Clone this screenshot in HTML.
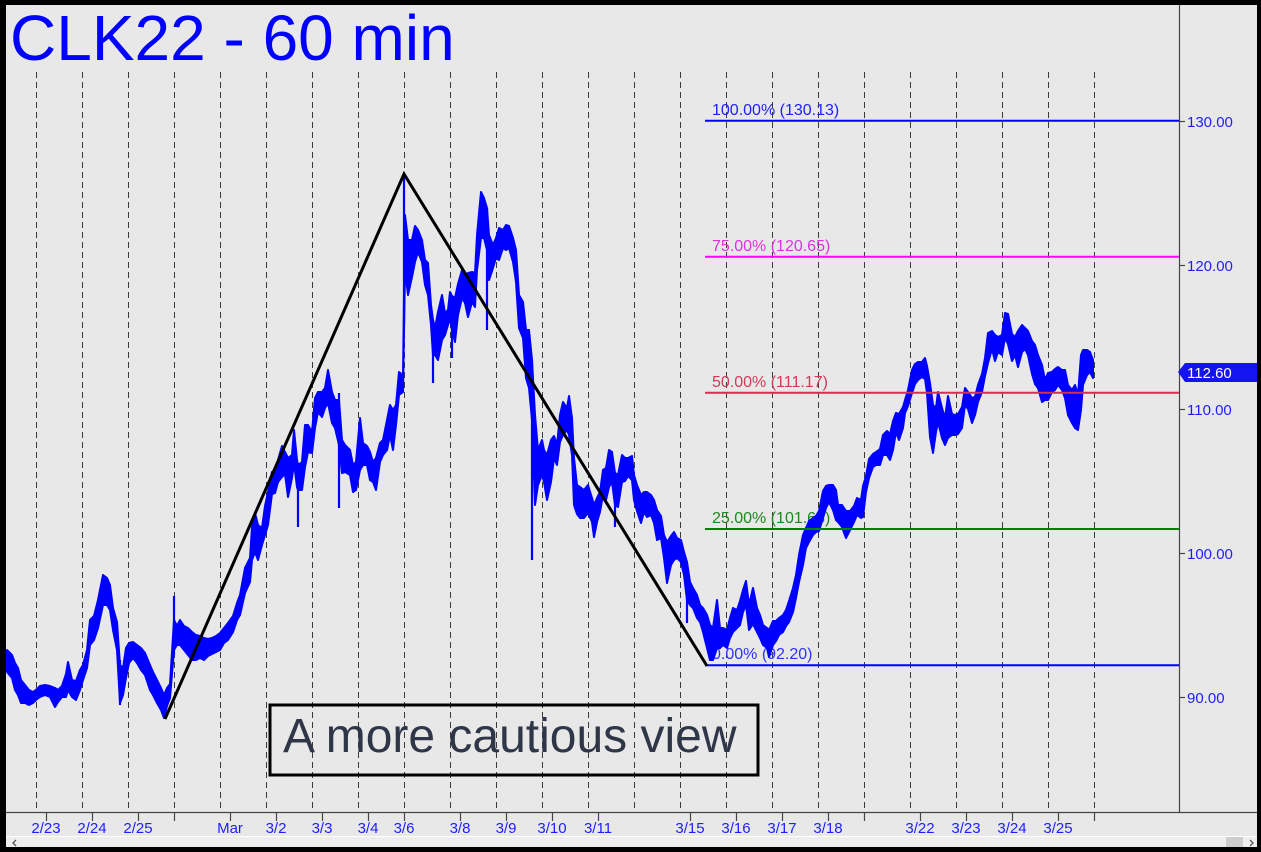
<!DOCTYPE html>
<html>
<head>
<meta charset="utf-8">
<style>
html,body{margin:0;padding:0;background:#e8e8e8;}
svg{display:block;}
text{font-family:"Liberation Sans",Arial,sans-serif;}
</style>
</head>
<body>
<svg width="1261" height="852" viewBox="0 0 1261 852" xmlns="http://www.w3.org/2000/svg">
<rect x="0" y="0" width="1261" height="852" fill="#e8e8e8"/>

<!-- dashed vertical grid -->
<g stroke="#3a3a3a" stroke-width="1" stroke-dasharray="6,4">
<line x1="36.5" y1="72" x2="36.5" y2="812"/>
<line x1="82.5" y1="72" x2="82.5" y2="812"/>
<line x1="128.5" y1="72" x2="128.5" y2="812"/>
<line x1="174.5" y1="72" x2="174.5" y2="812"/>
<line x1="220.5" y1="72" x2="220.5" y2="812"/>
<line x1="266.5" y1="72" x2="266.5" y2="812"/>
<line x1="312.5" y1="72" x2="312.5" y2="812"/>
<line x1="358.5" y1="72" x2="358.5" y2="812"/>
<line x1="404.5" y1="72" x2="404.5" y2="812"/>
<line x1="450.5" y1="72" x2="450.5" y2="812"/>
<line x1="496.5" y1="72" x2="496.5" y2="812"/>
<line x1="542.5" y1="72" x2="542.5" y2="812"/>
<line x1="588.5" y1="72" x2="588.5" y2="812"/>
<line x1="634.5" y1="72" x2="634.5" y2="812"/>
<line x1="680.5" y1="72" x2="680.5" y2="812"/>
<line x1="726.5" y1="72" x2="726.5" y2="812"/>
<line x1="772.5" y1="72" x2="772.5" y2="812"/>
<line x1="818.5" y1="72" x2="818.5" y2="812"/>
<line x1="864.5" y1="72" x2="864.5" y2="812"/>
<line x1="910.5" y1="72" x2="910.5" y2="812"/>
<line x1="956.5" y1="72" x2="956.5" y2="812"/>
<line x1="1002.5" y1="72" x2="1002.5" y2="812"/>
<line x1="1048.5" y1="72" x2="1048.5" y2="812"/>
<line x1="1094.5" y1="72" x2="1094.5" y2="812"/>
</g>

<!-- axes -->
<line x1="6" y1="812.5" x2="1257" y2="812.5" stroke="#454545" stroke-width="1.2"/>
<line x1="1179.5" y1="5" x2="1179.5" y2="812" stroke="#454545" stroke-width="1.2"/>

<!-- x ticks -->
<g stroke="#454545" stroke-width="1.2">
<line x1="46.5" y1="812" x2="46.5" y2="821"/>
<line x1="92.5" y1="812" x2="92.5" y2="821"/>
<line x1="138.5" y1="812" x2="138.5" y2="821"/>
<line x1="174.5" y1="812" x2="174.5" y2="821"/>
<line x1="230.5" y1="812" x2="230.5" y2="821"/>
<line x1="276.5" y1="812" x2="276.5" y2="821"/>
<line x1="322.5" y1="812" x2="322.5" y2="821"/>
<line x1="368.5" y1="812" x2="368.5" y2="821"/>
<line x1="404.5" y1="812" x2="404.5" y2="821"/>
<line x1="460.5" y1="812" x2="460.5" y2="821"/>
<line x1="506.5" y1="812" x2="506.5" y2="821"/>
<line x1="552.5" y1="812" x2="552.5" y2="821"/>
<line x1="598.5" y1="812" x2="598.5" y2="821"/>
<line x1="690.5" y1="812" x2="690.5" y2="821"/>
<line x1="736.5" y1="812" x2="736.5" y2="821"/>
<line x1="782.5" y1="812" x2="782.5" y2="821"/>
<line x1="828.5" y1="812" x2="828.5" y2="821"/>
<line x1="864.5" y1="812" x2="864.5" y2="821"/>
<line x1="920.5" y1="812" x2="920.5" y2="821"/>
<line x1="966.5" y1="812" x2="966.5" y2="821"/>
<line x1="1012.5" y1="812" x2="1012.5" y2="821"/>
<line x1="1058.5" y1="812" x2="1058.5" y2="821"/>
<line x1="1094.5" y1="812" x2="1094.5" y2="821"/>
</g>

<!-- x labels -->
<g fill="#1e1eff" font-size="15" text-anchor="middle">
<text x="46" y="833">2/23</text>
<text x="92" y="833">2/24</text>
<text x="138" y="833">2/25</text>
<text x="230" y="833">Mar</text>
<text x="276" y="833">3/2</text>
<text x="322" y="833">3/3</text>
<text x="368" y="833">3/4</text>
<text x="404" y="833">3/6</text>
<text x="460" y="833">3/8</text>
<text x="506" y="833">3/9</text>
<text x="552" y="833">3/10</text>
<text x="598" y="833">3/11</text>
<text x="690" y="833">3/15</text>
<text x="736" y="833">3/16</text>
<text x="782" y="833">3/17</text>
<text x="828" y="833">3/18</text>
<text x="920" y="833">3/22</text>
<text x="966" y="833">3/23</text>
<text x="1012" y="833">3/24</text>
<text x="1058" y="833">3/25</text>
</g>

<!-- y ticks and labels -->
<g stroke="#454545" stroke-width="1.2">
<line x1="1179" y1="121.5" x2="1185" y2="121.5"/>
<line x1="1179" y1="265.5" x2="1185" y2="265.5"/>
<line x1="1179" y1="409.5" x2="1185" y2="409.5"/>
<line x1="1179" y1="553.5" x2="1185" y2="553.5"/>
<line x1="1179" y1="697.5" x2="1185" y2="697.5"/>
</g>
<g fill="#1e1eff" font-size="15">
<text x="1187" y="127">130.00</text>
<text x="1187" y="271">120.00</text>
<text x="1187" y="415">110.00</text>
<text x="1187" y="559">100.00</text>
<text x="1187" y="703">90.00</text>
</g>

<!-- fib labels (under series) -->
<g font-size="16">
<text x="712" y="115" fill="#2020ff">100.00% (130.13)</text>
<text x="712" y="251" fill="#e030e0">75.00% (120.65)</text>
<text x="712" y="387" fill="#d23a58">50.00% (111.17)</text>
<text x="712" y="523" fill="#1a8a1a">25.00% (101.68)</text>
<text x="712" y="659" fill="#3030ff">0.00% (92.20)</text>
</g>

<!-- price series -->
<polygon fill="#0000ff" stroke="#0000ff" stroke-width="2" stroke-linejoin="round" points="
7,650 12,655 15,663 18,668 21,680 25,685 29,690 33,692 37,689 40,686 45,685 50,686 55,688 58,690 62,686 66,674 68,662 72,680 76,681 80,670 83,665 87,650 90,620 94,616 98,600 103,575 107,578 110,585 113,608 117,622 120,665 123,668 126,648 129,643 133,642 137,645 141,648 145,653 150,665 153,672 157,680 161,688 164,695 167,688 170,684 174,620 177,626 180,620 184,626 188,628 192,632 196,635 200,636 204,638 208,639 212,638 216,636 220,633 224,628 228,623 233,616 237,603 240,595 245,568 250,558 252,527 255,513 258,525 262,528 265,506 268,492 272,472 275,475 278,460 282,446 285,452 288,458 292,455 294,430 297,460 298,465 302,462 305,425 308,425 312,432 315,398 318,392 322,392 325,388 328,370 332,392 335,400 339,400 342,440 345,445 350,450 353,465 356,462 360,418 363,443 367,446 370,452 373,462 376,458 380,443 383,440 387,420 390,405 393,410 396,405 399,372 403,375 405,215 408,240 412,240 415,226 418,230 422,240 425,260 428,263 431,305 433,320 435,328 438,312 442,295 445,313 448,310 450,292 452,296 455,298 458,284 462,270 465,276 468,273 472,272 475,273 477,235 481,192 484,198 487,208 489,235 493,245 496,238 499,228 503,230 506,225 509,226 513,238 516,250 519,295 523,302 526,330 529,330 532,360 535,415 538,450 542,440 544,450 547,455 551,440 554,436 557,445 560,415 563,402 567,408 569,396 572,418 574,458 577,485 580,487 584,490 588,485 592,498 594,505 597,498 600,492 603,470 606,468 609,450 612,452 615,473 618,475 622,455 625,458 628,458 632,456 634,475 637,485 641,495 644,492 647,492 651,495 654,500 657,510 661,516 664,535 667,542 671,536 674,532 677,538 681,540 684,552 687,562 690,582 693,588 697,595 700,605 703,608 707,615 710,625 713,628 717,600 720,628 723,628 727,630 730,618 733,608 737,610 740,601 743,590 746,581 749,605 753,588 757,608 760,615 763,625 767,628 769,630 773,621 776,621 779,618 783,615 786,610 789,601 793,588 796,575 799,555 803,535 806,528 809,521 813,518 816,516 819,511 823,491 826,486 829,485 833,485 836,490 838,505 842,505 846,511 850,511 854,506 857,498 861,500 863,486 866,476 869,459 873,454 876,452 880,449 883,435 887,431 890,434 893,421 896,413 899,414 903,407 905,400 908,390 912,370 915,364 918,362 922,362 925,358 927,366 930,383 933,405 936,408 938,392 942,408 945,418 948,396 952,414 955,415 958,414 962,407 965,388 968,392 972,398 975,397 978,385 982,374 985,358 988,333 992,331 995,335 998,337 1002,335 1005,313 1008,314 1012,334 1015,337 1018,331 1022,325 1025,328 1028,331 1032,341 1035,345 1038,355 1042,365 1045,380 1048,373 1052,372 1055,369 1058,367 1062,370 1065,370 1068,385 1072,390 1075,385 1078,395 1081,355 1083,350 1087,350 1090,352 1093,360
1093,378 1090,372 1087,375 1083,385 1081,410 1078,430 1075,428 1072,423 1068,415 1065,398 1062,390 1058,385 1055,390 1052,392 1048,400 1045,400 1042,402 1038,388 1035,384 1032,374 1028,355 1025,349 1022,352 1018,367 1015,355 1012,361 1008,344 1005,338 1002,355 998,352 995,361 992,349 988,363 985,376 982,392 978,402 975,415 972,423 968,409 965,405 962,428 958,434 955,435 952,435 948,438 945,445 942,438 938,422 936,432 933,453 930,437 927,393 925,379 922,377 918,380 915,384 912,393 908,406 905,413 903,428 899,440 896,432 893,450 890,460 887,455 883,455 880,465 876,465 873,467 869,478 866,492 863,517 861,518 857,515 854,522 850,530 846,538 842,527 838,522 836,520 833,510 829,502 826,508 823,518 819,531 816,532 813,535 809,542 806,548 803,565 799,582 796,598 793,612 789,622 786,626 783,632 779,635 776,641 773,645 769,657 767,648 763,645 760,638 757,632 753,624 749,630 746,605 743,612 740,625 737,628 733,632 730,638 727,648 723,645 720,648 717,648 713,660 710,660 707,648 703,632 700,622 697,618 693,608 690,605 687,600 684,575 681,562 677,558 674,560 671,565 667,583 664,558 661,538 657,540 654,523 651,515 647,517 644,512 641,523 637,511 634,500 632,480 628,476 625,481 622,482 618,507 615,505 612,482 609,487 606,500 603,495 600,512 597,522 594,537 592,522 588,513 584,518 580,518 577,514 574,505 572,455 569,435 567,430 563,435 560,442 557,465 554,458 551,482 547,500 544,482 542,475 538,485 535,505 532,420 529,388 526,378 523,338 519,328 516,282 513,262 509,248 506,250 503,248 499,260 496,258 493,268 489,280 487,250 484,238 481,238 477,270 475,307 472,302 468,317 465,303 462,298 458,315 455,342 452,330 450,318 448,325 445,335 442,340 438,360 435,355 433,355 431,325 428,295 425,285 422,262 418,252 415,262 412,277 408,295 405,270 403,392 399,395 396,425 393,450 390,435 387,450 383,455 380,462 376,490 373,482 370,480 367,465 363,465 360,470 356,490 353,492 350,475 345,472 342,473 339,445 335,428 332,423 328,403 325,408 322,417 318,412 315,428 312,453 308,452 305,467 302,490 298,490 297,487 294,463 292,478 288,497 285,474 282,477 278,482 275,493 272,494 268,525 265,535 262,545 258,560 255,552 252,560 250,582 245,593 240,615 237,620 233,632 228,640 224,643 220,650 216,652 212,654 208,656 204,660 200,658 196,660 192,660 188,655 184,650 180,645 177,645 174,650 170,698 167,706 164,718 161,710 157,703 153,695 150,690 145,675 141,670 137,663 133,658 129,663 126,678 123,695 120,703 117,650 113,630 110,610 107,605 103,605 98,628 94,640 90,645 87,668 83,680 80,690 76,700 72,697 68,690 66,697 62,697 58,702 55,707 50,697 45,695 40,697 37,699 33,703 29,705 25,703 21,703 18,695 15,690 12,678 7,672"/>

<!-- spikes -->
<g stroke="#0000ff" stroke-width="2.2">
<line x1="174" y1="596" x2="174" y2="655"/>
<line x1="298" y1="468" x2="298" y2="527"/>
<line x1="339" y1="393" x2="339" y2="508"/>
<line x1="404" y1="174" x2="404" y2="325"/>
<line x1="433" y1="320" x2="433" y2="383"/>
<line x1="452" y1="296" x2="452" y2="358"/>
<line x1="487" y1="208" x2="487" y2="330"/>
<line x1="532" y1="360" x2="532" y2="560"/>
<line x1="615" y1="473" x2="615" y2="527"/>
<line x1="687" y1="563" x2="687" y2="623"/>
<line x1="120" y1="660" x2="120" y2="705"/>
</g>

<!-- fib lines -->
<g stroke-width="2">
<line x1="705" y1="120.7" x2="1179" y2="120.7" stroke="#0000ff"/>
<line x1="705" y1="256.7" x2="1179" y2="256.7" stroke="#ff00ff"/>
<line x1="705" y1="392.7" x2="1179" y2="392.7" stroke="#d4304f"/>
<line x1="705" y1="529" x2="1179" y2="529" stroke="#008000"/>
<line x1="705" y1="665.3" x2="1179" y2="665.3" stroke="#0000ff"/>
</g>

<!-- zigzag -->
<polyline points="165,719 404,174 707,666" fill="none" stroke="#000" stroke-width="3" stroke-linejoin="miter"/>

<!-- text box -->
<rect x="270" y="705" width="488" height="70" fill="none" stroke="#000" stroke-width="3"/>
<text x="283" y="752" font-size="48" fill="#2e3648">A more cautious view</text>

<!-- title -->
<text x="10" y="60" font-size="64" fill="#0000ff">CLK22 - 60 min</text>

<!-- price label -->
<polygon points="1178,372 1185,363 1257,363 1257,382 1185,382" fill="#1414f0"/>
<text x="1187" y="378" font-size="15" fill="#ffffff">112.60</text>

<!-- scrollbar -->
<rect x="6" y="836" width="1251" height="11" fill="#eeeeee"/>
<line x1="6" y1="836.5" x2="1257" y2="836.5" stroke="#ffffff" stroke-width="1"/>
<rect x="1226" y="837" width="17" height="10" fill="#cdcdcd"/>
<polyline points="16,840 13,843 16,846" fill="none" stroke="#555" stroke-width="1.3"/>
<polyline points="1250,840 1253,843 1250,846" fill="none" stroke="#555" stroke-width="1.3"/>

<!-- outer border -->
<rect x="0" y="0" width="1261" height="5" fill="#000"/>
<rect x="0" y="847" width="1261" height="5" fill="#000"/>
<rect x="0" y="0" width="6" height="852" fill="#000"/>
<rect x="1257" y="0" width="4" height="852" fill="#000"/>
</svg>
</body>
</html>
